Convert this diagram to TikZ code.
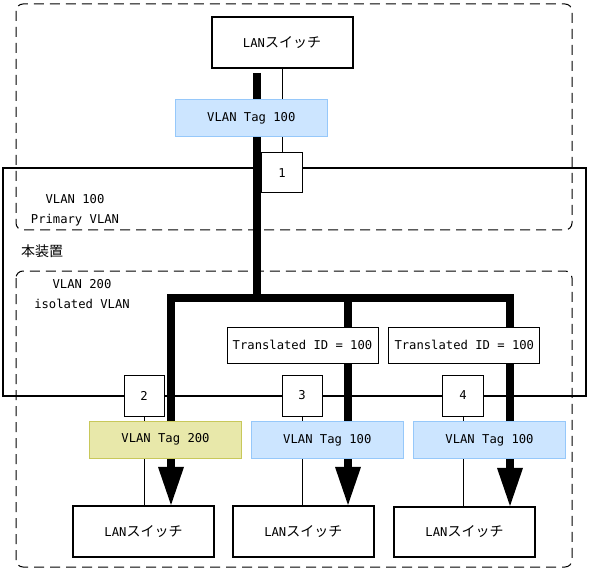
\documentclass[tikz,border=0pt]{standalone}
\usepackage{fontspec}
\setmainfont{DejaVu Sans Mono}
\newfontfamily\jp{Noto Sans CJK JP}
\usetikzlibrary{arrows.meta}
\definecolor{tagblue}{RGB}{204,229,255}
\definecolor{tagblueline}{RGB}{150,200,250}
\definecolor{tagyel}{RGB}{232,232,170}
\definecolor{tagyelline}{RGB}{200,200,90}
\newcommand{\jpt}[1]{{\jp\fontsize{14}{15}\selectfont #1}}
\begin{document}
\begin{tikzpicture}[x=1pt,y=-1pt,
  font=\fontsize{12.2}{20}\selectfont,
  lanbox/.style={draw, line width=2pt, fill=white, minimum width=141pt, minimum height=51pt, inner sep=0pt},
  tagblu/.style={draw=tagblueline, fill=tagblue, line width=1pt, minimum width=152pt, minimum height=37pt, inner sep=0pt},
  tagyl/.style={draw=tagyelline, fill=tagyel, line width=1pt, minimum width=152pt, minimum height=37pt, inner sep=0pt},
  portbox/.style={draw, line width=1pt, fill=white, minimum width=40pt, minimum height=40pt, inner sep=0pt},
  transbox/.style={draw, line width=1pt, fill=white, minimum width=151pt, minimum height=36pt, inner sep=0pt},
  vlanarea/.style={draw, dash pattern=on 10pt off 6pt, line width=1pt, rounded corners=7pt},
  devarea/.style={draw, line width=1.4pt},
  thinline/.style={line width=1pt},
  bus/.style={line width=8pt, line cap=butt, line join=miter},
  bustip/.style={-{Triangle[width=26pt,length=38pt,line width=0pt]}},
  lbl/.style={align=center, inner sep=0pt}
]
\useasboundingbox (0,0) rectangle (589,572);

% areas
\draw[vlanarea] (16,4) rectangle (572,230);
\draw[vlanarea] (16,271) rectangle (572,567);
\draw[devarea] (3,168) rectangle (586,396);

\node[lbl] (l100) at (75,210) {VLAN 100\\Primary VLAN};
\node[lbl] (ldev) at (42,251) {\jpt{本装置}};
\node[lbl] (l200) at (82,294) {VLAN 200\\isolated VLAN};

% coordinates of bus
\coordinate (busTop) at (256.5,73);
\coordinate (jT) at (256.5,297.5);
\coordinate (jL) at (171,297.5);
\coordinate (jM) at (348,297.5);
\coordinate (jR) at (510,297.5);

% switches and ports (positions)
\path
  (282,42.5) node[lanbox] (swT) {LAN\jpt{スイッチ}}
  (282,173) node[portbox, minimum width=41pt] (p1) {1}
  (144,395.5) node[portbox, minimum height=41pt] (p2) {2}
  (302,395.5) node[portbox, minimum height=41pt] (p3) {3}
  (463,395.5) node[portbox, minimum width=41pt, minimum height=41pt] (p4) {4}
  (143.5,531.3) node[lanbox, minimum width=141.6pt, minimum height=50.7pt] (sw2) {LAN\jpt{スイッチ}}
  (303.3,531.3) node[lanbox, minimum width=141.6pt, minimum height=50.7pt] (sw3) {LAN\jpt{スイッチ}}
  (464.5,531.8) node[lanbox, minimum height=49.7pt] (sw4) {LAN\jpt{スイッチ}};

% thin lines
\draw[thinline] (swT.south) -- (p1.north);
\draw[thinline] (p2.south) -- (sw2.north -| p2.south);
\draw[thinline] (p3.south) -- (sw3.north -| p3.south);
\draw[thinline] (p4.south) -- (sw4.north -| p4.south);

% bus
\draw[bus] (busTop) -- (jT);
\draw[bus, {Triangle[width=26pt,length=38pt,line width=0pt]}-{Triangle[width=26pt,length=38pt,line width=0pt]}]
  (sw2.north -| jL) -- (jL) -- (jR) -- (sw4.north -| jR);
\draw[bus, bustip] (jM) -- (sw3.north -| jM);

% redraw port boxes on top
\node[portbox, minimum width=41pt] at (p1) {1};
\node[portbox, minimum height=41pt] at (p2) {2};
\node[portbox, minimum height=41pt] at (p3) {3};
\node[portbox, minimum width=41pt, minimum height=41pt] at (p4) {4};

% tags
\node[tagblu] (tagT) at (251.3,117.8) {VLAN Tag 100};
\node[tagyl] (tag2) at (165.5,439.7) {VLAN Tag 200};
\node[tagblu] (tag3) at (327.3,439.8) {VLAN Tag 100};
\node[tagblu] (tag4) at (489.5,439.8) {VLAN Tag 100};

% translated
\node[transbox] (tr3) at (302.5,345.2) {Translated ID = 100};
\node[transbox] (tr4) at (464.3,345.2) {Translated ID = 100};
\end{tikzpicture}
\end{document}
